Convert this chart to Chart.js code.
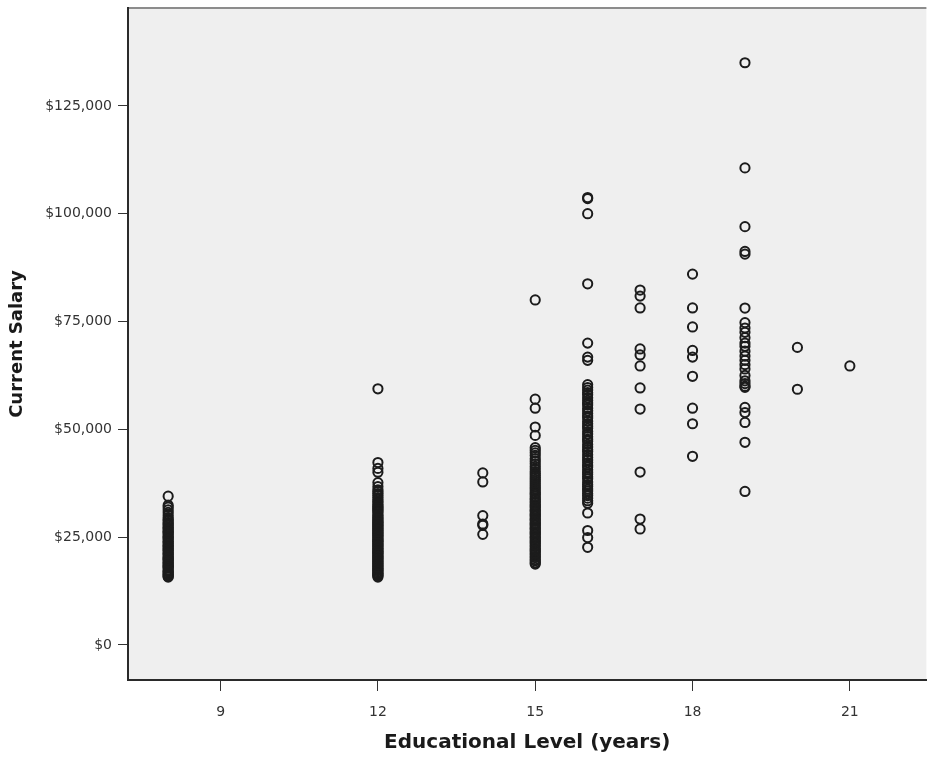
<!DOCTYPE html>
<html>
<head>
<meta charset="utf-8">
<script src="https://cdn.jsdelivr.net/npm/chart.js@4.4.1/dist/chart.umd.min.js"></script>
<style>
  html, body { margin: 0; padding: 0; background: #ffffff; }
  #wrap { width: 933px; height: 757px; }
</style>
</head>
<body>
<div id="wrap"><canvas id="c" width="933" height="757"></canvas></div>
<script>
// ---- Data ----
const educLevels = [8, 12, 14, 15, 16, 17, 18, 19, 20, 21];

const salaries8 = [15750, 15900, 16200, 16350, 16650, 16950, 17100, 17400, 17850, 18000,
  18300, 18450, 18750, 19050, 19200, 19650, 19800, 20100, 20250, 20550, 21000, 21150,
  21450, 21900, 22050, 22350, 22650, 22950, 23100, 23550, 23850, 24000, 24450, 24750,
  25050, 25200, 25650, 25950, 26250, 26400, 26850, 27150, 27300, 27750, 28050, 28350,
  28800, 29100, 29550, 30150, 30750, 31350, 31950, 32400, 34500];

const salaries12 = [15750, 16050, 16200, 16500, 16650, 16950, 17250, 17400, 17700, 17850,
  18150, 18450, 18600, 18900, 19200, 19350, 19650, 19950, 20100, 20400, 20550, 20850,
  21150, 21300, 21600, 21750, 22050, 22350, 22500, 22800, 23100, 23250, 23550, 23850,
  24000, 24300, 24450, 24750, 25050, 25350, 25500, 25800, 26100, 26250, 26550, 26850,
  27000, 27300, 27600, 27750, 28050, 28350, 28500, 28800, 29100, 29400, 29700, 30000,
  30300, 30750, 31050, 31350, 31650, 31950, 32250, 32550, 33000, 33300, 33750, 34200,
  34650, 35100, 35550, 36000, 36750, 37650, 40050, 40950, 42300, 59400];

const salaries14 = [25650, 27750, 28050, 30000, 37800, 39900];

const salaries15 = [18750, 19050, 19500, 19800, 20250, 20550, 21000, 21300, 21750, 22050,
  22350, 22800, 23100, 23550, 23850, 24150, 24600, 24900, 25200, 25650, 25950, 26250,
  26700, 27000, 27300, 27750, 28050, 28350, 28800, 29100, 29400, 29850, 30150, 30450,
  30900, 31200, 31500, 31950, 32250, 32550, 33000, 33300, 33750, 34050, 34500, 34950,
  35250, 35700, 36150, 36600, 37050, 37500, 37950, 38400, 38850, 39300, 39750, 40200,
  40800, 41400, 42000, 42600, 43200, 43950, 44550, 45150, 45750, 48600, 50550, 54900,
  57000, 80000];

const salaries16 = [22650, 24900, 26550, 30600, 32850, 33450, 34050, 34650, 35100, 35700,
  36150, 36750, 37200, 37800, 38550, 39000, 39600, 40050, 40650, 41250, 41700, 42300,
  42900, 43500, 44100, 44850, 45300, 45900, 46500, 47250, 47700, 48300, 48900, 49500,
  50250, 50700, 51300, 51900, 52650, 53100, 53700, 54300, 54900, 55650, 56100, 56700,
  57300, 58050, 58500, 59100, 59700, 60375, 66000, 66750, 70000, 83750, 100000, 103500,
  103750];

const salaries17 = [26900, 29200, 40100, 54700, 59600, 64700, 67250, 68650, 78150, 80900, 82300];

const salaries18 = [43750, 51300, 54900, 62300, 66750, 68300, 73750, 78150, 86000];

const salaries19 = [35600, 47000, 51600, 53900, 55100, 59750, 60000, 60625, 61250, 62500,
  64000, 65000, 66000, 67000, 68125, 69250, 70000, 71250, 72500, 73500, 74750, 78125,
  90625, 91250, 97000, 110625, 135000];

const salaries20 = [59300, 69000];

const salaries21 = [64700];

const yTicks = [0, 25000, 50000, 75000, 100000, 125000];
const xTicks = [9, 12, 15, 18, 21];

// ---- Build dataset from the named arrays ----
const byLevel = [salaries8, salaries12, salaries14, salaries15, salaries16,
                 salaries17, salaries18, salaries19, salaries20, salaries21];
const points = [];
educLevels.forEach((lvl, i) => {
  byLevel[i].forEach(s => points.push({ x: lvl, y: s }));
});

const plotBg = {
  id: 'plotBg',
  beforeDraw(chart) {
    const { ctx, chartArea: a } = chart;
    ctx.save();
    ctx.fillStyle = '#efefef';
    ctx.fillRect(a.left, a.top, a.right - a.left, a.bottom - a.top);
    ctx.strokeStyle = '#8c8c8c';
    ctx.lineWidth = 2;
    ctx.beginPath();
    ctx.moveTo(a.left, a.top);
    ctx.lineTo(a.right, a.top);
    ctx.stroke();
    ctx.restore();
  }
};

const tickFont = { family: 'DejaVu Sans', size: 14 };
const xTitleFont = { family: 'DejaVu Sans', size: 20, weight: 'bold' };
const yTitleFont = { family: 'DejaVu Sans', size: 18, weight: 'bold' };

new Chart(document.getElementById('c'), {
  type: 'scatter',
  data: {
    datasets: [{
      data: points,
      showLine: false,
      pointStyle: 'circle',
      pointRadius: 4.6,
      pointBorderWidth: 2,
      pointBackgroundColor: 'rgba(0,0,0,0)',
      pointBorderColor: '#1c1c1c'
    }]
  },
  options: {
    responsive: false,
    devicePixelRatio: 1,
    animation: false,
    layout: { padding: { top: 8, right: 3, left: 0, bottom: 0 } },
    plugins: { legend: { display: false }, tooltip: { enabled: false }, title: { display: false } },
    scales: {
      x: {
        type: 'linear',
        min: 7.234,
        max: 22.46,
        afterBuildTicks: s => { s.ticks = xTicks.map(v => ({ value: v })); },
        afterFit: s => { s.height = 77; s.paddingLeft = 0; s.paddingRight = 0; },
        grid: { display: true, drawOnChartArea: false, drawTicks: true, tickLength: 11, color: '#333333', lineWidth: 1 },
        border: { display: true, color: '#2a2a2a', width: 2 },
        ticks: { font: tickFont, color: '#333333', padding: 13, maxRotation: 0, callback: v => String(v) },
        title: { display: true, text: 'Educational Level (years)', font: xTitleFont, color: '#1a1a1a', padding: { top: 0, bottom: 2 } }
      },
      y: {
        type: 'linear',
        min: -8120,
        max: 147700,
        afterBuildTicks: s => { s.ticks = yTicks.map(v => ({ value: v })); },
        afterFit: s => { s.width = 128; s.paddingTop = 0; s.paddingBottom = 0; },
        grid: { display: true, drawOnChartArea: false, drawTicks: true, tickLength: 10, color: '#333333', lineWidth: 1 },
        border: { display: true, color: '#2a2a2a', width: 2 },
        ticks: { font: tickFont, color: '#333333', padding: 6,
          callback: v => '$' + Number(v).toLocaleString('en-US') },
        title: { display: true, text: 'Current Salary', font: yTitleFont, color: '#1a1a1a', padding: { top: 7, bottom: 0 } }
      }
    }
  },
  plugins: [plotBg]
});
</script>
</body>
</html>
